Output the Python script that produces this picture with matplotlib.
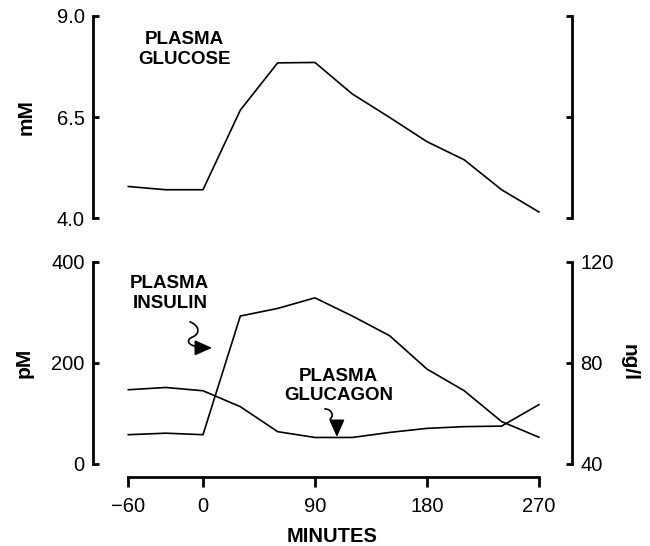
import matplotlib
matplotlib.use("Agg")
import matplotlib.pyplot as plt
from matplotlib.patches import FancyArrowPatch
from matplotlib.path import Path
from matplotlib.transforms import Affine2D, ScaledTranslation

plt.rcParams['font.family'] = ['Liberation Sans', 'DejaVu Sans']

# data
minutes = [-60, -30, 0, 30, 60, 90, 120, 150, 180, 210, 240, 270]
glucose = [4.78, 4.70, 4.70, 6.67, 7.84, 7.85, 7.07, 6.49, 5.89, 5.44, 4.70, 4.15]  # mM
insulin = [58, 61, 58, 293, 308, 329, 293, 254, 188, 145, 84, 53]  # pM
glucagon = [69.4, 70.3, 69.0, 62.7, 52.8, 50.5, 50.5, 52.5, 54.1, 54.8, 55.0, 63.5]  # ng/l

x_ticks = [-60, 0, 90, 180, 270]
x_labels = ['\u221260', '0', '90', '180', '270']
glu_ticks = [4.0, 6.5, 9.0]
pm_ticks = [0, 200, 400]
ng_ticks = [40, 80, 120]

xlim = (-88.4, 296.6)
lw_spine = 2.0
lw_line = 1.2
tick_fs = 14.5
lab_fs = 15
note_fs = 13.5

fig = plt.figure(figsize=(6.5, 5.46), dpi=100)
ax_top = fig.add_axes([0.1431, 0.6007, 0.7369, 0.370])
ax_bot = fig.add_axes([0.1431, 0.1502, 0.7369, 0.370])
ax_ng = ax_bot.twinx()

# ---- top panel: glucose
ax_top.plot(minutes, glucose, color='black', lw=lw_line)
ax_top.set_xlim(*xlim)
ax_top.set_ylim(4.0, 9.0)
ax_top.set_yticks(glu_ticks)
ax_top.set_yticklabels(['4.0', '6.5', '9.0'])
ax_top.set_xticks([])
for s in ['top', 'bottom']:
    ax_top.spines[s].set_visible(False)
for s in ['left', 'right']:
    ax_top.spines[s].set_linewidth(lw_spine)
ax_top.tick_params(axis='y', direction='in', length=4, width=lw_spine,
                   labelsize=tick_fs, pad=6, right=True, labelright=False)
ax_top.set_ylabel('mM', fontsize=lab_fs, fontweight='bold', labelpad=15)
ax_top.text(-15, 8.17, 'PLASMA\nGLUCOSE', ha='center', va='center',
            fontsize=note_fs, fontweight='bold', linespacing=1.2)

# ---- bottom panel: insulin (left) and glucagon (right)
ax_bot.plot(minutes, insulin, color='black', lw=lw_line)
ax_ng.plot(minutes, glucagon, color='black', lw=lw_line)
ax_bot.set_xlim(*xlim)
ax_bot.set_ylim(0, 400)
ax_ng.set_ylim(40, 120)
ax_bot.set_yticks(pm_ticks)
ax_ng.set_yticks(ng_ticks)
ax_bot.set_xticks(x_ticks)
ax_bot.set_xticklabels(x_labels)

ax_bot.spines['top'].set_visible(False)
ax_bot.spines['right'].set_visible(False)
ax_bot.spines['left'].set_linewidth(lw_spine)
ax_bot.spines['bottom'].set_linewidth(lw_spine)
ax_bot.spines['bottom'].set_position(('outward', 9.4))
ax_bot.spines['bottom'].set_bounds(-60, 270)
for s in ['top', 'left', 'bottom']:
    ax_ng.spines[s].set_visible(False)
ax_ng.spines['right'].set_linewidth(lw_spine)

ax_bot.tick_params(axis='y', direction='in', length=4, width=lw_spine,
                   labelsize=tick_fs, pad=6)
ax_ng.tick_params(axis='y', direction='in', length=4, width=lw_spine,
                  labelsize=tick_fs, pad=6)
ax_bot.tick_params(axis='x', direction='out', length=7, width=lw_spine,
                   labelsize=tick_fs, pad=7.5)

ax_bot.set_ylabel('pM', fontsize=lab_fs, fontweight='bold', labelpad=12.5)
ax_ng.set_ylabel('ng/l', fontsize=lab_fs, fontweight='bold', rotation=270,
                 labelpad=18)
ax_bot.set_xlabel('MINUTES', fontsize=14.5, fontweight='bold', labelpad=7.5)

# annotations
ax_bot.text(-26.7, 337.6, 'PLASMA\nINSULIN', ha='center', va='center',
            fontsize=note_fs, fontweight='bold', linespacing=1.2)
ax_bot.text(109, 154.5, 'PLASMA\nGLUCAGON', ha='center', va='center',
            fontsize=note_fs, fontweight='bold', linespacing=1.2)


def squiggle(ax, tip, verts):
    # verts are pixel offsets from the arrow tip
    trans = Affine2D().scale(fig.dpi / 100.0) + ScaledTranslation(tip[0], tip[1], ax.transData)
    codes = [Path.MOVETO] + [Path.CURVE4] * (len(verts) - 1)
    arr = FancyArrowPatch(path=Path(verts, codes),
                          arrowstyle='-|>,head_length=1.05,head_width=0.47',
                          mutation_scale=10, transform=trans, lw=1.2,
                          color='black', clip_on=False)
    ax.add_patch(arr)


# insulin arrow, pointing right at the rising insulin line
squiggle(ax_bot, (7.2, 230),
         [(-22, 26), (-12, 22), (-12, 14), (-19, 11),
          (-27, 8), (-26, 0), (0, 0)])
# glucagon arrow, pointing down at the glucagon minimum
squiggle(ax_bot, (107.6, 53.5),
         [(-12, 28), (-5, 28), (-3, 21), (-6, 19),
          (-9, 16), (0, 16), (0, 0)])

fig.savefig('out.png', dpi=100)
